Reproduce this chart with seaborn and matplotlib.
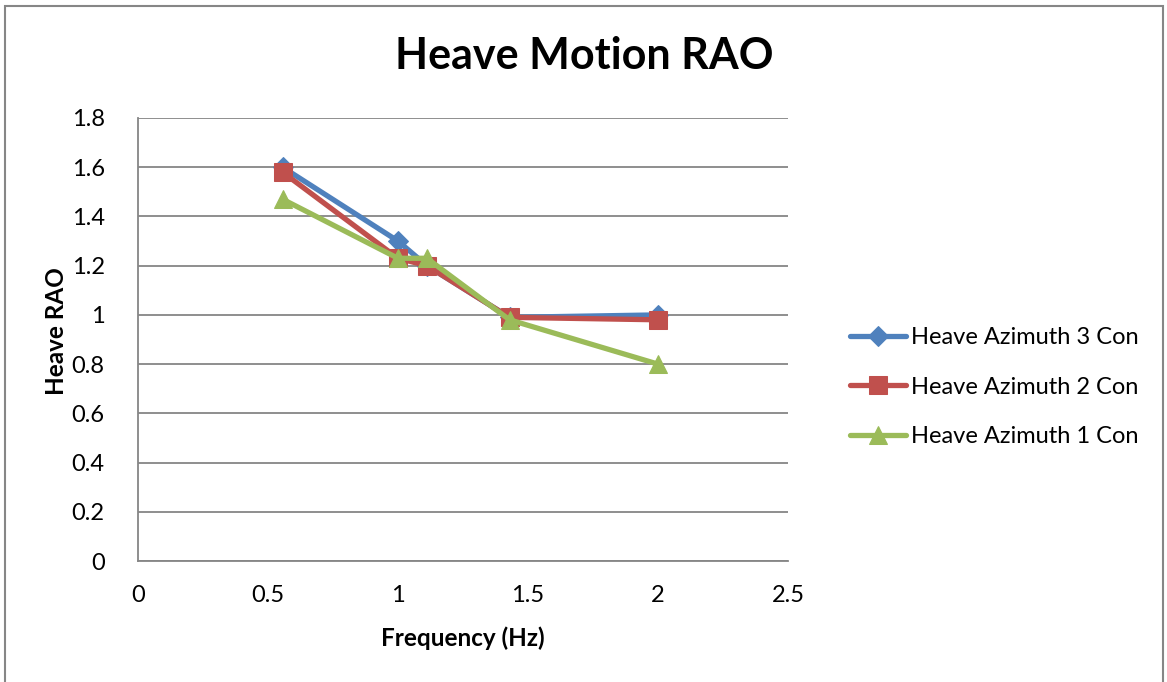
import matplotlib
matplotlib.use("Agg")
import matplotlib.pyplot as plt
from matplotlib.patches import Rectangle
import seaborn as sns
import pandas as pd

# Wave frequencies (Hz) and heave RAO per azimuth configuration
frequency = [0.556, 1.0, 1.111, 1.429, 2.0]
azimuth_3 = [1.60, 1.30, 1.20, 0.99, 1.00]
azimuth_2 = [1.58, 1.23, 1.20, 0.99, 0.98]
azimuth_1 = [1.47, 1.23, 1.23, 0.98, 0.80]

series_names = ["Heave Azimuth 3 Con", "Heave Azimuth 2 Con", "Heave Azimuth 1 Con"]
colors = ["#4F81BD", "#C0504D", "#9BBB59"]
markers = ["D", "s", "^"]
marker_sizes = [10, 13, 13]

x_ticks = [0, 0.5, 1, 1.5, 2, 2.5]
x_tick_labels = ["0", "0.5", "1", "1.5", "2", "2.5"]
y_ticks = [0, 0.2, 0.4, 0.6, 0.8, 1, 1.2, 1.4, 1.6, 1.8]
y_tick_labels = ["0", "0.2", "0.4", "0.6", "0.8", "1", "1.2", "1.4", "1.6", "1.8"]

df = pd.DataFrame({
    "Frequency (Hz)": frequency * 3,
    "Heave RAO": azimuth_3 + azimuth_2 + azimuth_1,
    "series": sum([[n] * len(frequency) for n in series_names], []),
})

sns.set_theme(style="white")
plt.rcParams["font.family"] = ["Lato", "DejaVu Sans"]
plt.rcParams["text.color"] = "black"

fig = plt.figure(figsize=(11.67, 6.82), dpi=100)
ax = fig.add_axes([138 / 1167, 121 / 682, 650 / 1167, 443 / 682])

for name, c, m, ms in zip(series_names, colors, markers, marker_sizes):
    sns.lineplot(
        data=df[df["series"] == name], x="Frequency (Hz)", y="Heave RAO",
        ax=ax, color=c, marker=m, markersize=ms, markeredgecolor=c,
        linewidth=3.8, label=name, sort=False,
    )

ax.set_xlim(0, 2.5)
ax.set_ylim(0, 1.8)
ax.set_xticks(x_ticks)
ax.set_xticklabels(x_tick_labels)
ax.set_yticks(y_ticks)
ax.set_yticklabels(y_tick_labels)
ax.tick_params(axis="both", length=0, labelsize=17, colors="black")
ax.tick_params(axis="y", pad=24)
ax.tick_params(axis="x", pad=17)
ax.grid(axis="y", color="#868686", linewidth=1.3)
ax.grid(axis="x", visible=False)
for side in ["top", "right"]:
    ax.spines[side].set_visible(False)
for side in ["left", "bottom"]:
    ax.spines[side].set_color("#868686")
    ax.spines[side].set_linewidth(1.3)

ax.set_xlabel("Frequency (Hz)", fontsize=17.5, fontweight="bold", color="black")
ax.set_ylabel("Heave RAO", fontsize=17.5, fontweight="bold", color="black")
ax.xaxis.set_label_coords(0.5, -0.147)
ax.yaxis.set_label_coords(-0.108, 0.52)

fig.suptitle("Heave Motion RAO", x=0.501, y=0.918, fontsize=31,
             fontweight="bold", va="center", color="black")

ax.get_legend().remove()
handles, labels = ax.get_legend_handles_labels()
leg = fig.legend(handles, labels, loc="center left",
                 bbox_to_anchor=(838 / 1167, 1 - 387 / 682),
                 frameon=False, fontsize=17, handlelength=2.4, handletextpad=0.2,
                 labelspacing=1.2, borderpad=0)
for t in leg.get_texts():
    t.set_color("black")

fig.patches.append(Rectangle((5 / 1167, -0.02), 1158 / 1167, 1.02 - 6 / 682,
                             transform=fig.transFigure, fill=False,
                             edgecolor="#868686", linewidth=1.5))

fig.savefig("out.png", dpi=100)
